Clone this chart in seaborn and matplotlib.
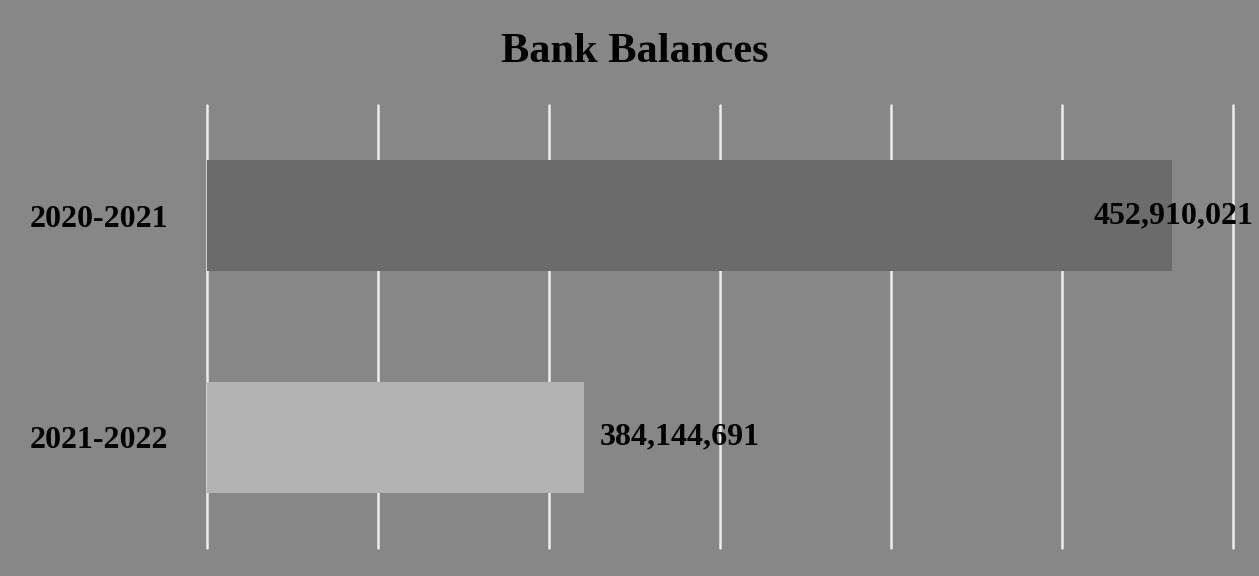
import pandas as pd
import numpy as np
import matplotlib
matplotlib.use('Agg')
import matplotlib.pyplot as plt
import seaborn as sns

# data
periods = ['2020-2021', '2021-2022']
balances = [452910021, 384144691]
bar_colors = ['#6b6b6b', '#b3b3b3']
grid_ticks = [340e6, 360e6, 380e6, 400e6, 420e6, 440e6, 460e6]

df = pd.DataFrame({'period': periods, 'balance': balances})

sns.set_style('dark')
plt.rcParams['font.family'] = ['Liberation Serif', 'DejaVu Serif']
plt.rcParams['text.color'] = 'black'
plt.rcParams['ytick.color'] = 'black'

bg = '#878787'
fig = plt.figure(figsize=(12.59, 5.76), dpi=100, facecolor=bg)
ax = fig.add_axes([207 / 1259, 28 / 576, (1233 - 207) / 1259, (548 - 105) / 576])
ax.set_facecolor(bg)

sns.barplot(data=df, x='balance', y='period', hue='period',
            palette=bar_colors, orient='h', width=0.5,
            legend=False, ax=ax, zorder=3, edgecolor='none', linewidth=0)

ax.set_xlim(340e6, 460e6)
ax.set_ylim(1.5, -0.5)
ax.set_xticks(grid_ticks)
ax.set_xticklabels([])
ax.tick_params(axis='x', length=0)
ax.tick_params(axis='y', length=0, pad=28, labelsize=23, labelcolor='black')
for lab in ax.get_yticklabels():
    lab.set_fontweight('bold')
ax.grid(axis='x', color='#ededed', linewidth=1.8, zorder=0)
ax.grid(axis='y', visible=False)
for gl in ax.get_xgridlines():
    gl.set_clip_on(False)
ax.set_axisbelow(True)
for s in ax.spines.values():
    s.set_visible(False)
ax.set_xlabel('')
ax.set_ylabel('')

# value labels
offsets = [-79, 15]
for i, v in enumerate(balances):
    ax.annotate(f'{v:,}', xy=(v, i), xytext=(offsets[i] * 0.72, 0),
                textcoords='offset points', ha='left', va='center',
                fontsize=23, fontweight='bold', color='black',
                annotation_clip=False)

fig.text(0.504, 0.91, 'Bank Balances', ha='center', va='center',
         fontsize=30.5, fontweight='bold', color='black')

fig.savefig('out.png', dpi=100, facecolor=bg)
